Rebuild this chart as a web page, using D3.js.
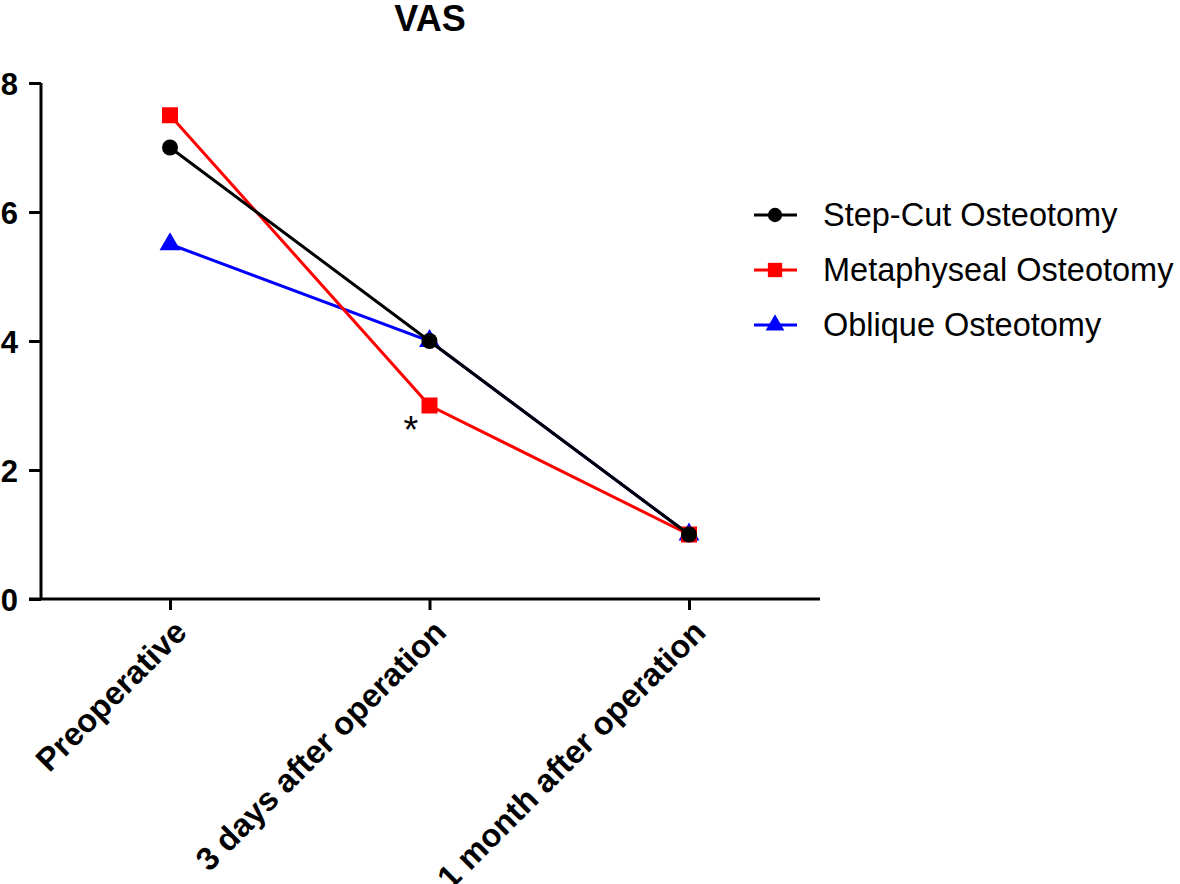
<!DOCTYPE html>
<html><head><meta charset="utf-8">
<script src="https://cdn.jsdelivr.net/npm/d3@7"></script>
<style>body{margin:0;background:#fff}text{font-family:"Liberation Sans",Arial,sans-serif}</style>
</head><body><svg id="c" width="1180" height="884"></svg>
<script>
const categories = ["Preoperative", "3 days after operation", "1 month after operation"];
const seriesNames = ["Step-Cut Osteotomy", "Metaphyseal Osteotomy", "Oblique Osteotomy"];
const stepCut = [7, 4, 1];
const metaphyseal = [7.5, 3, 1];
const oblique = [5.5, 4, 1];
const yTicks = [0, 2, 4, 6, 8];
const colors = ["#000000", "#ff0000", "#0000ff"];
const symbols = [d3.symbolCircle, d3.symbolSquare, d3.symbolTriangle];
const symSizes = [200, 256, 190];

const svg = d3.select("#c");
const x = d3.scalePoint().domain(categories).range([170, 689]);
const y = d3.scaleLinear().domain([0, 8]).range([599, 83]);

// title
svg.append("text").attr("x", 430).attr("y", 31).attr("text-anchor", "middle")
  .attr("font-size", 36).attr("font-weight", "bold").text("VAS");

// y axis
const gy = svg.append("g").attr("transform", "translate(41,0)")
  .call(d3.axisLeft(y).tickValues(yTicks).tickSize(12).tickPadding(8));
gy.select(".domain").attr("stroke-width", 3).attr("d", `M0,${y(8)}V${y(0)}`);
gy.selectAll(".tick line").attr("stroke-width", 3);
gy.selectAll(".tick text").attr("font-size", 31).attr("font-weight", "bold").attr("fill", "#000")
  .attr("font-family", "Liberation Sans, Arial, sans-serif").attr("x", -23).attr("dy", "0.36em");

// x axis
const gx = svg.append("g").attr("transform", "translate(0,599)")
  .call(d3.axisBottom(x).tickSize(11).tickPadding(0));
gx.select(".domain").attr("stroke-width", 3).attr("d", "M29,0H820");
gx.selectAll(".tick line").attr("stroke-width", 3);
gx.selectAll(".tick text").attr("font-size", 32.5).attr("font-weight", "bold").attr("fill", "#000")
  .attr("font-family", "Liberation Sans, Arial, sans-serif")
  .attr("text-anchor", "end").attr("dy", null).attr("y", 0)
  .attr("transform", "translate(18,35) rotate(-45)");

const series = [stepCut, metaphyseal, oblique];
const line = d3.line().x((d, i) => x(categories[i])).y(d => y(d));
// draw order: oblique, metaphyseal, step-cut on top
[2, 1, 0].forEach(si => {
  const g = svg.append("g");
  g.append("path").datum(series[si]).attr("d", line).attr("fill", "none")
    .attr("stroke", colors[si]).attr("stroke-width", 3);
  g.selectAll("path.m").data(series[si]).join("path").attr("class", "m")
    .attr("d", d3.symbol(symbols[si], symSizes[si]))
    .attr("transform", (d, i) => `translate(${x(categories[i])},${y(d)})`)
    .attr("fill", colors[si]);
});

// asterisk
svg.append("text").attr("x", 411).attr("y", 443).attr("text-anchor", "middle")
  .attr("font-size", 38).text("*");

// legend
const leg = svg.append("g");
seriesNames.forEach((n, i) => {
  const yy = 215 + i * 55;
  leg.append("line").attr("x1", 754).attr("x2", 797).attr("y1", yy).attr("y2", yy)
    .attr("stroke", colors[i]).attr("stroke-width", 3);
  leg.append("path").attr("d", d3.symbol(symbols[i], symSizes[i] * 0.8))
    .attr("transform", `translate(775,${yy})`).attr("fill", colors[i]);
  leg.append("text").attr("x", 823).attr("y", yy + 11).attr("font-size", 32.5).text(n);
});
</script></body></html>
